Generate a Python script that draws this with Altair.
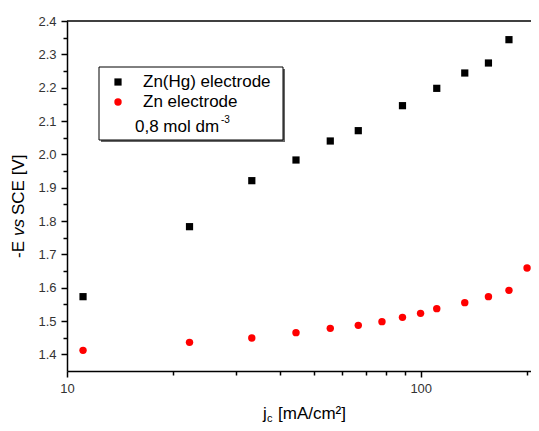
import altair as alt
import pandas as pd

# ---- data ----
j_znhg = [11.1, 22.2, 33.3, 44.4, 55.5, 66.6, 88.8, 111.0, 133.2, 155.4, 177.6]
e_znhg = [1.573, 1.783, 1.921, 1.983, 2.040, 2.071, 2.146, 2.198, 2.244, 2.274, 2.344]

j_zn = [11.1, 22.2, 33.3, 44.4, 55.5, 66.6, 77.7, 88.8, 99.9, 111.0, 133.2, 155.4, 177.6, 199.8]
e_zn = [1.412, 1.436, 1.449, 1.465, 1.478, 1.487, 1.498, 1.511, 1.523, 1.537, 1.555, 1.573, 1.592, 1.659]

x_ticks = [10, 20, 30, 40, 50, 60, 70, 80, 90, 100, 200]
y_ticks = [1.4, 1.45, 1.5, 1.55, 1.6, 1.65, 1.7, 1.75, 1.8, 1.85, 1.9, 1.95,
           2.0, 2.05, 2.1, 2.15, 2.2, 2.25, 2.3, 2.35, 2.4]

legend_labels = ["Zn(Hg) electrode", "Zn electrode", "0,8 mol dm"]

FONT = "Liberation Sans"
W, H = 464, 350

df_hg = pd.DataFrame({"j": j_znhg, "E": e_znhg})
df_zn = pd.DataFrame({"j": j_zn, "E": e_zn})
one = pd.DataFrame({"k": [0]})

xscale = alt.Scale(type="log", domain=[10, 205], nice=False)
yscale = alt.Scale(domain=[1.35, 2.4], nice=False, zero=False)

x_major = "datum.value == 10 || datum.value == 100"
y_major = "abs(datum.value*10 - round(datum.value*10)) < 0.01"

xaxis = alt.Axis(
    values=x_ticks, title=None, grid=False, labelFlush=False, labelOverlap=False,
    labelExpr=f"({x_major}) ? format(datum.value, 'd') : ''",
    tickSize={"condition": {"test": x_major, "value": 6}, "value": 4},
    labelPadding=5,
)
yaxis = alt.Axis(
    values=y_ticks, title=None, grid=False, labelFlush=False, labelOverlap=False,
    labelExpr=f"({y_major}) ? format(datum.value, '.1f') : ''",
    tickSize={"condition": {"test": y_major, "value": 6}, "value": 4},
    labelPadding=5,
)

X = alt.X("j:Q", scale=xscale, axis=xaxis)
Y = alt.Y("E:Q", scale=yscale, axis=yaxis)

hg = alt.Chart(df_hg).mark_point(shape="square", filled=True, color="black",
                                  size=52, opacity=1).encode(x=X, y=Y)
zn = alt.Chart(df_zn).mark_point(shape="circle", filled=True, color="#ff0000",
                                  size=55, opacity=1).encode(x=X, y=Y)

top_line = alt.Chart(pd.DataFrame({"E": [2.4]})).mark_rule(
    color="black", strokeWidth=1.5).encode(y=Y)

# legend box
shadow = alt.Chart(one).mark_rect(fill="#666666").encode(
    x=alt.value(34), x2=alt.value(218), y=alt.value(48), y2=alt.value(121))
box = alt.Chart(one).mark_rect(fill="white", stroke="black", strokeWidth=1).encode(
    x=alt.value(32), x2=alt.value(216), y=alt.value(46), y2=alt.value(119))
sym1 = alt.Chart(one).mark_point(shape="square", filled=True, color="black",
                                 size=52, opacity=1).encode(
    x=alt.value(51), y=alt.value(61))
sym2 = alt.Chart(one).mark_point(shape="circle", filled=True, color="#ff0000",
                                 size=55, opacity=1).encode(
    x=alt.value(51), y=alt.value(81))


def txt(text, x, y, size=17, **kw):
    return alt.Chart(one).mark_text(text=text, font=FONT, fontSize=size,
                                    color="black", align="left", **kw).encode(
        x=alt.value(x), y=alt.value(y))


lt1 = txt(legend_labels[0], 76, 61, baseline="middle")
lt2 = txt(legend_labels[1], 76, 81, baseline="middle")
lt3 = txt(legend_labels[2], 68, 106, baseline="middle")
lt3s = txt("-3", 154, 99, size=10, baseline="middle")

# x title: j_c [mA/cm²]
xt1 = txt("j", 196, 398, baseline="alphabetic")
xt2 = txt("c", 200, 401, size=11, baseline="alphabetic")
xt3 = txt("[mA/cm²]", 211, 398, baseline="alphabetic")

# y title: -E vs SCE [V]
yt1 = txt("-E", -43, 237, angle=270, baseline="alphabetic")
yt2 = txt("vs", -43, 215, angle=270, baseline="alphabetic", fontStyle="italic")
yt3 = txt("SCE [V]", -43, 194, angle=270, baseline="alphabetic")

chart = alt.layer(
    hg, zn, top_line, shadow, box, sym1, sym2, lt1, lt2, lt3, lt3s,
    xt1, xt2, xt3, yt1, yt2, yt3,
).properties(
    width=W, height=H,
    autosize=alt.AutoSizeParams(type="none"),
    padding={"left": 59, "top": 13, "right": 0, "bottom": 52},
).configure_view(stroke=None).configure_axis(
    domainColor="black", domainWidth=1.5, tickColor="black", tickWidth=1.5,
    labelFont=FONT, labelFontSize=13, labelColor="#333333",
)

chart.save("out.html", embed_options={"renderer": "svg", "actions": False})
